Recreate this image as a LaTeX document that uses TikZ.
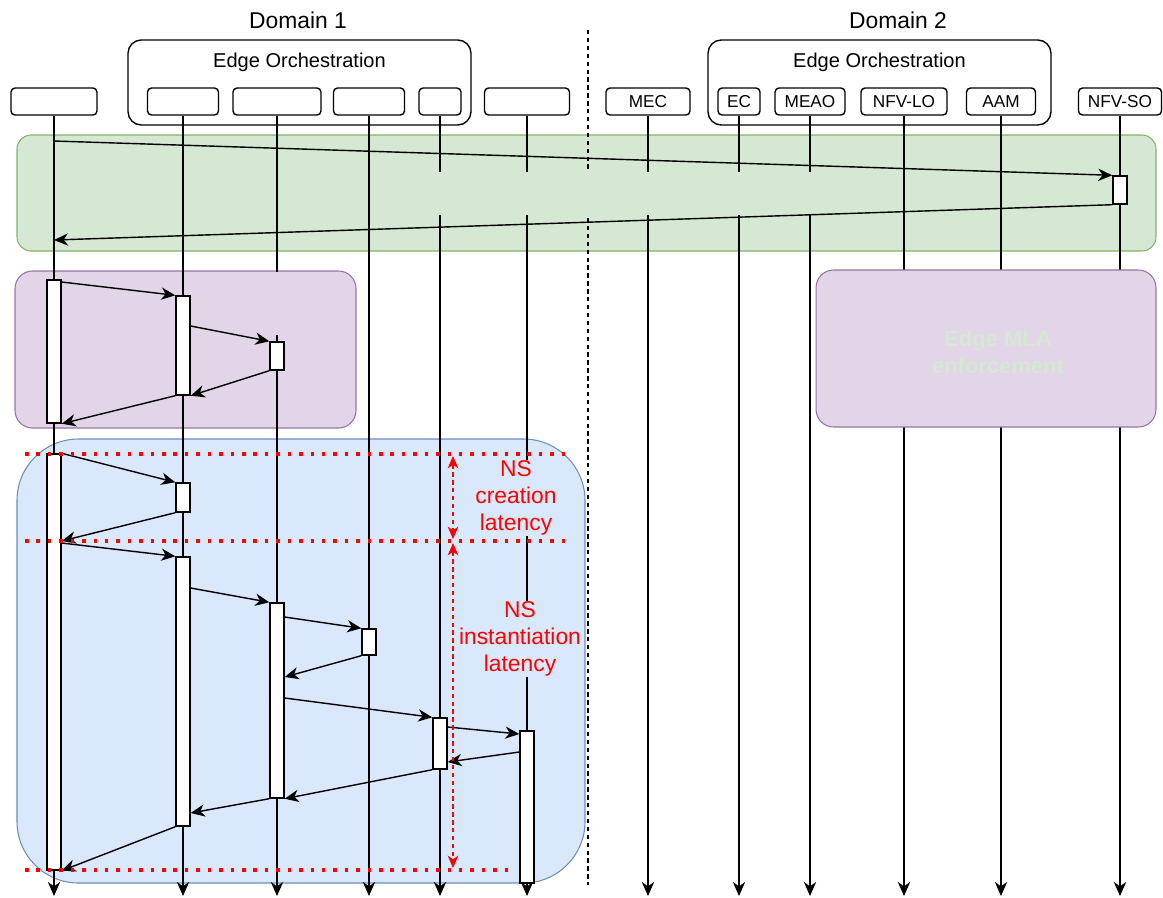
\documentclass[tikz,border=0pt]{standalone}
\usepackage{fontspec}
\setmainfont{Liberation Sans}
\usetikzlibrary{arrows.meta,positioning}
\definecolor{grfill}{HTML}{D5E8D4}
\definecolor{grline}{HTML}{82B366}
\definecolor{pufill}{HTML}{E1D5E7}
\definecolor{puline}{HTML}{9673A6}
\definecolor{blfill}{HTML}{DAE8FC}
\definecolor{blline}{HTML}{6C8EBF}
\definecolor{lat}{HTML}{FF0000}
\tikzset{
  phase/.style={line width=0.6pt,rounded corners=#1},
  head/.style={draw,line width=0.8pt,rounded corners=2.3pt,minimum height=0.54cm,
    inner sep=0pt,font=\fontsize{9.8}{11}\selectfont},
  group/.style={draw,line width=0.8pt,rounded corners=7.5pt,minimum width=6.86cm,
    minimum height=1.7cm,inner sep=0pt},
  grouptxt/.style={font=\fontsize{11.4}{13}\selectfont},
  domtxt/.style={font=\fontsize{13}{15}\selectfont},
  life/.style={line width=0.85pt},
  lifeend/.style={life,-{Stealth[length=8pt,width=7pt,inset=2.5pt]}},
  divider/.style={line width=0.6pt,dash pattern=on 2.5pt off 2pt},
  msg/.style={line width=0.8pt,-{Stealth[length=8pt,width=7pt,inset=2.5pt]}},
  actbar/.style={draw,fill=white,line width=0.8pt,minimum width=0.28cm,inner sep=0pt},
  latline/.style={lat,line width=2pt,dash pattern=on 2pt off 4.5pt},
  latarrow/.style={lat,line width=0.7pt,dash pattern=on 2.5pt off 2pt,
    {Stealth[length=7pt,width=6pt,inset=2pt]}-{Stealth[length=7pt,width=6pt,inset=2pt]}},
  lattext/.style={lat,fill=blfill,align=center,inner sep=0.5pt,
    font=\fontsize{13}{15.3}\selectfont},
}

\begin{document}
\begin{tikzpicture}[x=0.02cm,y=-0.02cm]
  \useasboundingbox (0,0) rectangle (1163,897);
  % phases
  \draw[phase=8pt,fill=grfill,draw=grline] (17,135) rectangle (1156,251);
  \draw[phase=10pt,fill=pufill,draw=puline] (15,271) rectangle (356,428);
  \draw[phase=35pt,fill=blfill,draw=blline] (17,439) rectangle (585,883);
  % domains
  \node[domtxt] (dom1) at (298,20) {Domain 1};
  \node[domtxt] (dom2) at (898,20) {Domain 2};
  \node[group] (eo1) at (299.5,82.5) {};
  \node[group] (eo2) at (879.5,82.5) {};
  \node[grouptxt] (eo1lab) at (299.5,62) {Edge Orchestration};
  \node[grouptxt] (eo2lab) at (879.5,62) {Edge Orchestration};
  \foreach \n/\x/\w/\t in {h1/54/86/{},h2/183/71/{},h3/277/88/{},h4/369/71/{},
      h5/440/42/{},h6/527/85/{},mec/648/84/MEC,ec/739/42/EC,meao/810/70/MEAO,
      nfvlo/904/86/NFV-LO,aam/1001/69/AAM,nfvso/1120/83/NFV-SO}
    \node[head,minimum width={\w*0.02cm}] (\n) at (\x,101.5) {\t};
  \coordinate (divtop) at (588,30);
  \coordinate (divcut) at (588,172);
  \coordinate (divres) at (588,218);
  \coordinate (divbot) at (588,885);
  \draw[divider] (divtop) -- (divcut);
  \draw[divider] (divres) -- (divbot);
  % lifelines
  \foreach \n in {h1,h2,h4,nfvlo,aam,nfvso}
    \draw[lifeend] (\n.south) -- (\n.south |- 0,896);
  \foreach \n in {h5,h6,mec,ec,meao} {
    \draw[life] (\n.south) -- (\n.south |- 0,172);
    \draw[lifeend] (\n.south |- 0,215) -- (\n.south |- 0,896);}
  \draw[life] (h3.south) -- (h3.south |- 0,272);
  \draw[lifeend] (h3.south |- 0,335) -- (h3.south |- 0,896);
  \node[draw=puline,fill=pufill,line width=0.6pt,rounded corners=10pt,
    minimum width=6.8cm,minimum height=3.14cm] (mla) at (986,348.5) {};
  \node[text=grfill,align=center,font=\fontsize{12.5}{15.5}\selectfont\bfseries]
    (mlalab) at (998,352) {Edge MLA\\enforcement};
  \node[lattext] (lcre) at (516,498) {NS\\creation\\latency};
  \node[lattext] (lins) at (520,639) {NS\\instantiation\\latency};
  % activations
  \foreach \n/\h/\t/\b in {sa/nfvso/176/204,pa1/h1/280/423,pa2/h2/296/395,
      pa3/h3/342/370,ba1/h1/454/870,ba2/h2/483/512,ba3/h2/557/826,ba4/h3/603/798,
      ba5/h4/629/655,ba6/h5/718/769,ba7/h6/731/883}
    \node[actbar,minimum height={(\b-\t)*0.02cm}] (\n) at (\h.south |- 0,{(\t+\b)/2}) {};
  % messages
  \draw[msg] (h1.south |- 0,141) -- (sa.north west);
  \draw[msg] (sa.south west) -- (h1.south |- 0,240);
  \draw[msg] (pa1.east |- 0,282) -- (pa2.north west);
  \draw[msg] (pa2.east |- 0,326) -- (pa3.north west);
  \draw[msg] (pa3.south west) -- (pa2.south east);
  \draw[msg] (pa2.south west) -- (pa1.south east);
  \draw[msg] (ba1.north east) -- (ba2.north west);
  \draw[msg] (ba2.south west) -- (ba1.east |- 0,541);
  \draw[msg] (ba1.east |- 0,543) -- (ba3.north west);
  \draw[msg] (ba3.east |- 0,588) -- (ba4.north west);
  \draw[msg] (ba4.east |- 0,617) -- (ba5.north west);
  \draw[msg] (ba5.south west) -- (ba4.east |- 0,677);
  \draw[msg] (ba4.east |- 0,698) -- (ba6.north west);
  \draw[msg] (ba6.east |- 0,727) -- (ba7.west |- 0,734);
  \draw[msg] (ba7.west |- 0,752) -- (ba6.east |- 0,762);
  \draw[msg] (ba6.south west) -- (ba4.south east);
  \draw[msg] (ba4.south west) -- (ba3.east |- 0,813);
  \draw[msg] (ba3.south west) -- (ba1.south east);
  % latency marks
  \coordinate (t1a) at (25,454); \coordinate (t1b) at (567,454);
  \coordinate (t2a) at (25,541); \coordinate (t2b) at (567,541);
  \coordinate (t3a) at (25,870); \coordinate (t3b) at (512,870);
  \draw[latline] (t1a) -- (t1b);
  \draw[latline] (t2a) -- (t2b);
  \draw[latline] (t3a) -- (t3b);
  \coordinate (c1) at (453,456); \coordinate (c2) at (453,539);
  \coordinate (c3) at (453,543); \coordinate (c4) at (453,868);
  \draw[latarrow] (c1) -- (c2);
  \draw[latarrow] (c3) -- (c4);
\end{tikzpicture}
\end{document}
